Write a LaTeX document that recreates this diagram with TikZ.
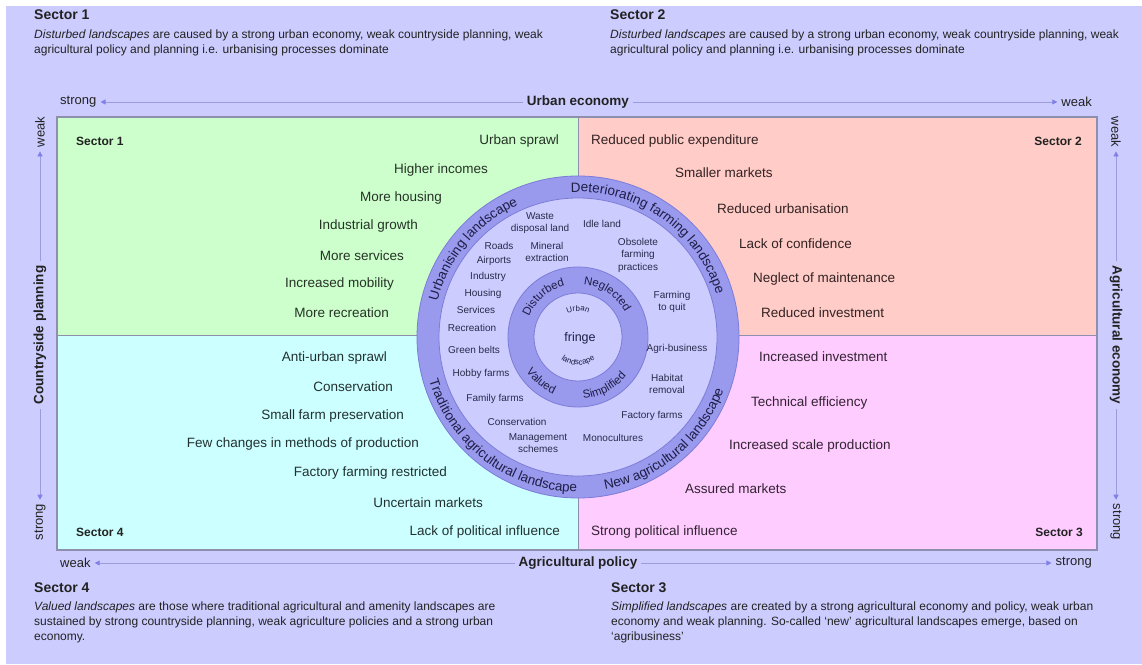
\documentclass[tikz,border=0pt]{standalone}
\usepackage{fontspec}
\setmainfont{Liberation Sans}
\usetikzlibrary{arrows.meta,decorations.text,calc}
\definecolor{bglav}{HTML}{CCCCFF}
\definecolor{qgreen}{HTML}{CCFFCC}
\definecolor{qsalmon}{HTML}{FFCCC8}
\definecolor{qcyan}{HTML}{CCFFFF}
\definecolor{qpink}{HTML}{FFCCFF}
\definecolor{bandc}{HTML}{9999EE}
\definecolor{bandedge}{HTML}{7C7CD8}
\definecolor{innerc}{HTML}{CCCCFF}
\definecolor{framec}{HTML}{8E8EAE}
\definecolor{axisc}{HTML}{9C9CDC}
\definecolor{arrowc}{HTML}{8080E8}
\definecolor{txt}{HTML}{222222}
\definecolor{bandtxt}{HTML}{1E1E46}
\definecolor{smalltxt}{HTML}{2A2A4A}
\definecolor{tgreen}{HTML}{263226}
\definecolor{tred}{HTML}{322222}
\definecolor{tcyan}{HTML}{223030}
\definecolor{tpink}{HTML}{322232}
\newcommand\bandfont{\fontsize{13.5}{15}\selectfont\color{bandtxt}}
\newcommand\ringfont{\fontsize{11.5}{13}\selectfont\color{bandtxt}}
\newcommand\tinyfont{\fontsize{8}{9}\selectfont\color{bandtxt}}
\tikzset{
  item/.style={font=\fontsize{13.5}{16}\selectfont, inner sep=0pt},
  sectlab/.style={font=\bfseries\fontsize{12}{14}\selectfont, text=txt, inner sep=0pt},
  head/.style={font=\bfseries\fontsize{14}{17}\selectfont, text=txt, inner sep=0pt, anchor=west},
  desc/.style={font=\fontsize{12}{15}\selectfont, text=txt, inner sep=0pt, align=left, anchor=north west},
  axlab/.style={font=\fontsize{13}{15}\selectfont, text=txt, inner xsep=4pt, inner ysep=0pt},
  axbold/.style={font=\bfseries\fontsize{13.5}{15}\selectfont, text=txt, inner xsep=4pt, inner ysep=0pt},
  axline/.style={draw=axisc, line width=0.7pt, arrows={-Triangle[length=5pt,width=5pt,color=arrowc]}},
  small/.style={font=\fontsize{10}{12.5}\selectfont, text=smalltxt, inner sep=0pt, align=center},
  arctext/.style={decorate, decoration={text along path, text align=center, text={#1}}}
}
\begin{document}
\begin{tikzpicture}[x=1pt,y=1pt]
\useasboundingbox (0,0) rectangle (1142,664);
\fill[white] (0,0) rectangle (1142,664);
\fill[bglav] (6,0) rectangle (1142,658);

% quadrants
\fill[qgreen] (57,329) rectangle (578,547);
\fill[qsalmon] (578,329) rectangle (1097,547);
\fill[qcyan] (57,114) rectangle (578,329);
\fill[qpink] (578,114) rectangle (1097,329);
\draw[framec, line width=0.6pt] (57,329) -- (1097,329) (578,114) -- (578,547);
\draw[framec, line width=1.2pt] (57,114) rectangle (1097,547);

% headers
\node[head] (h1) at (34,649) {Sector 1};
\node[desc] (d1) at (34,634) {\textit{Disturbed landscapes} are caused by a strong urban economy, weak countryside planning, weak\\agricultural policy and planning i.e. urbanising processes dominate};
\node[head] (h2) at (610,649) {Sector 2};
\node[desc] (d2) at (610,634) {\textit{Disturbed landscapes} are caused by a strong urban economy, weak countryside planning, weak\\agricultural policy and planning i.e. urbanising processes dominate};
\node[head] (h4) at (34,76) {Sector 4};
\node[desc] (d4) at (34,62) {\textit{Valued landscapes} are those where traditional agricultural and amenity landscapes are\\sustained by strong countryside planning, weak agriculture policies and a strong urban\\economy.};
\node[head] (h3) at (611,76) {Sector 3};
\node[desc] (d3) at (611,62) {\textit{Simplified landscapes} are created by a strong agricultural economy and policy, weak urban\\economy and weak planning. So-called ‘new’ agricultural landscapes emerge, based on\\‘agribusiness’};

% top axis
\node[axlab, anchor=west] (sT) at (56,562) {strong};
\node[axbold] (ue) at (578,562) {Urban economy};
\node[axlab, anchor=east] (wT) at (1096,562) {weak};
\draw[axline] (ue.west) -- (sT.east);
\draw[axline] (ue.east) -- (wT.west);
% bottom axis
\node[axlab, anchor=west] (wB) at (56,101) {weak};
\node[axbold] (ap) at (578,101) {Agricultural policy};
\node[axlab, anchor=east] (sB) at (1096,101) {strong};
\draw[axline] (ap.west) -- (wB.east);
\draw[axline] (ap.east) -- (sB.west);
% left axis
\node[axlab, rotate=90] (wL) at (40,532) {weak};
\node[axbold, rotate=90] (cp) at (40,329) {Countryside planning};
\node[axlab, rotate=90] (sL) at (40,142) {strong};
\draw[axline] (cp.east) -- (wL.west);
\draw[axline] (cp.west) -- (sL.east);
% right axis
\node[axlab, rotate=-90] (wR) at (1116,532) {weak};
\node[axbold, rotate=-90] (ae) at (1116,329) {Agricultural economy};
\node[axlab, rotate=-90] (sR) at (1116,142) {strong};
\draw[axline] (ae.west) -- (wR.east);
\draw[axline] (ae.east) -- (sR.west);

% sector 1 items
\node[sectlab, anchor=west] (s1) at (76,523) {Sector 1};
\begin{scope}[every node/.style={item, text=tgreen, anchor=east}]
\node (a1) at (559,523) {Urban sprawl};
\node (a2) at (488,494) {Higher incomes};
\node (a3) at (442,466) {More housing};
\node (a4) at (418,438) {Industrial growth};
\node (a5) at (404,408) {More services};
\node (a6) at (394,380) {Increased mobility};
\node (a7) at (389,351) {More recreation};
\end{scope}
% sector 2 items
\node[sectlab, anchor=east] (s2) at (1082,523) {Sector 2};
\begin{scope}[every node/.style={item, text=tred, anchor=west}]
\node (b1) at (591,523) {Reduced public expenditure};
\node (b2) at (675,491) {Smaller markets};
\node (b3) at (717,455) {Reduced urbanisation};
\node (b4) at (739,420) {Lack of confidence};
\node (b5) at (753,385) {Neglect of maintenance};
\node (b6) at (761,351) {Reduced investment};
\end{scope}
% sector 4 items
\node[sectlab, anchor=west] (s4) at (76,132) {Sector 4};
\begin{scope}[every node/.style={item, text=tcyan, anchor=east}]
\node (c1) at (387,306) {Anti-urban sprawl};
\node (c2) at (393,277) {Conservation};
\node (c3) at (404,248) {Small farm preservation};
\node (c4) at (419,220) {Few changes in methods of production};
\node (c5) at (447,191) {Factory farming restricted};
\node (c6) at (483,161) {Uncertain markets};
\node (c7) at (560,132) {Lack of political influence};
\end{scope}
% sector 3 items
\node[sectlab, anchor=east] (s3) at (1083,132) {Sector 3};
\begin{scope}[every node/.style={item, text=tpink, anchor=west}]
\node (e1) at (759,307) {Increased investment};
\node (e2) at (751,261) {Technical efficiency};
\node (e3) at (729,218) {Increased scale production};
\node (e4) at (685,175) {Assured markets};
\node (e5) at (591,132) {Strong political influence};
\end{scope}

% circles
\coordinate (C) at (578,327);
\draw[bandedge, fill=bandc, line width=0.8pt] (C) circle[radius=161];
\draw[bandedge, fill=innerc, line width=0.8pt] (C) circle[radius=139];
\draw[bandedge, fill=bandc, line width=0.8pt] (C) circle[radius=70];
\draw[bandedge, fill=innerc, line width=0.8pt] (C) circle[radius=44];

% outer band texts
\path[arctext={|\bandfont|Urbanising landscape}] ($(C)+(200:145)$) arc[start angle=200, end angle=80, radius=145];
\path[arctext={|\bandfont|Deteriorating farming landscape}] ($(C)+(126:145)$) arc[start angle=126, end angle=-16, radius=145];
\path[arctext={|\bandfont|Traditional agricultural landscape}] ($(C)+(163:155)$) arc[start angle=163, end angle=303, radius=155];
\path[arctext={|\bandfont|New agricultural landscape}] ($(C)+(245:155)$) arc[start angle=245, end angle=375, radius=155];
% inner ring texts
\path[arctext={|\ringfont|Disturbed}] ($(C)+(181:53)$) arc[start angle=181, end angle=81, radius=53];
\path[arctext={|\ringfont|Neglected}] ($(C)+(106:53)$) arc[start angle=106, end angle=6, radius=53];
\path[arctext={|\ringfont|Valued}] ($(C)+(180:62)$) arc[start angle=180, end angle=280, radius=62];
\path[arctext={|\ringfont|Simplified}] ($(C)+(248:62)$) arc[start angle=248, end angle=348, radius=62];
% inner circle
\path[arctext={|\tinyfont|Urban}] ($(C)+(150:26)$) arc[start angle=150, end angle=30, radius=26];
\path[arctext={|\tinyfont|landscape}] ($(C)+(190:28)$) arc[start angle=190, end angle=350, radius=28];
\node[font=\fontsize{12.5}{14}\selectfont, text=bandtxt, inner sep=0pt] (fr) at (580,326) {fringe};

% small items
\node[small] (i1) at (540,441) {Waste\\disposal land};
\node[small] (i2) at (602,440) {Idle land};
\node[small] (i3) at (499,418) {Roads};
\node[small] (i4) at (547,412) {Mineral\\extraction};
\node[small] (i5) at (494,403) {Airports};
\node[small] (i6) at (638,409) {Obsolete\\farming\\practices};
\node[small] (i7) at (488,387) {Industry};
\node[small] (i8) at (483,370) {Housing};
\node[small] (i9) at (476,354) {Services};
\node[small] (i10) at (472,336) {Recreation};
\node[small] (i11) at (474,314) {Green belts};
\node[small] (i12) at (672,362) {Farming\\to quit};
\node[small] (i13) at (677,315) {Agri-business};
\node[small] (i14) at (481,290) {Hobby farms};
\node[small] (i15) at (495,265) {Family farms};
\node[small] (i16) at (517,242) {Conservation};
\node[small] (i17) at (538,221) {Management\\schemes};
\node[small] (i18) at (613,226) {Monocultures};
\node[small] (i19) at (652,248) {Factory farms};
\node[small] (i20) at (667,280) {Habitat\\removal};
\end{tikzpicture}
\end{document}
